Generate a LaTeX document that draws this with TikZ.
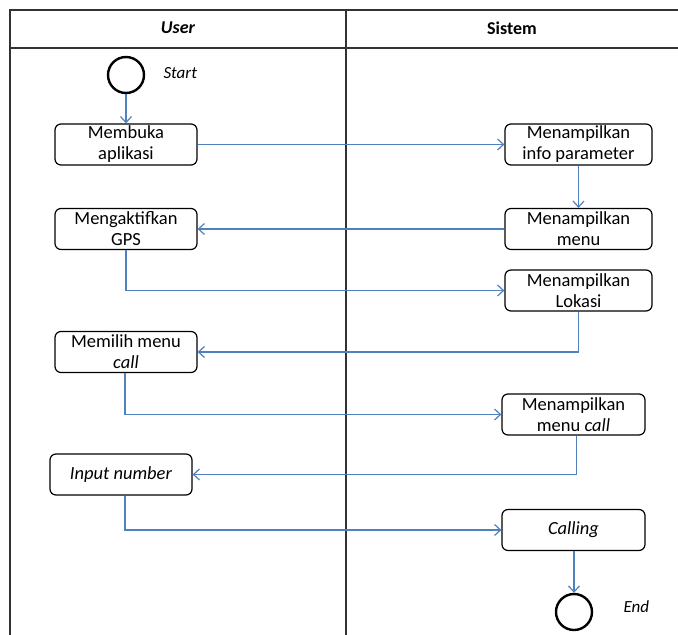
\documentclass[tikz,border=0pt]{standalone}
\usepackage{fontspec}
\setmainfont{Carlito}
\usetikzlibrary{arrows.meta}
\definecolor{flow}{RGB}{79,129,189}
\definecolor{frame}{RGB}{50,50,50}
\tikzset{
  act/.style={draw=black, line width=1.2pt, rounded corners=6pt, minimum width=142pt, minimum height=41pt, align=center, inner sep=0pt, font=\fontsize{18.5}{21}\selectfont},
  term/.style={draw=black, line width=2.4pt, circle, minimum size=36pt, inner sep=0pt},
  flowarrow/.style={draw=flow, line width=1.2pt, -{Straight Barb[length=6pt,width=11pt,line width=1.2pt]}},
  lane/.style={draw=frame, line width=1.5pt},
  lbl/.style={font=\fontsize{17}{21}\selectfont\itshape},
  hdr/.style={font=\fontsize{18}{21}\selectfont\bfseries}
}
\begin{document}
\begin{tikzpicture}[x=1pt,y=-1pt]
\useasboundingbox (0,0) rectangle (678,635);
% swimlanes
\draw[lane] (10,635) -- (10,10) -- (678,10);
\draw[lane] (10,48) -- (678,48);
\draw[lane] (346,10) -- (346,635);
\node[hdr] (huser) at (178,28) {\itshape User};
\node[hdr] (hsis) at (512,28) {Sistem};
% nodes
\node[term] (start) at (126,75) {};
\node[lbl, anchor=west] (starttxt) at (160,73) {Start};
\node[act] (open) at (126,144.5) {Membuka\\aplikasi};
\node[act, minimum width=147pt] (info) at (578.5,144.5) {Menampilkan\\info parameter};
\node[act] (gps) at (126,229) {Mengaktifkan\\GPS};
\node[act, minimum width=147pt] (menu) at (578.5,229) {Menampilkan\\menu};
\node[act, minimum width=147pt] (lokasi) at (578.5,290.5) {Menampilkan\\Lokasi};
\node[act] (pilih) at (126,352) {Memilih menu\\\textit{call}};
\node[act, minimum width=143pt] (menucall) at (573.5,414.5) {Menampilkan\\menu \textit{call}};
\node[act] (input) at (121,474.5) {\textit{Input number}};
\node[act, minimum width=143pt] (calling) at (573.5,530) {\textit{Calling}};
\node[term] (end) at (574,612) {};
\node[lbl, anchor=west] (endtxt) at (620,607) {End};
% flows
\draw[flowarrow] (start) -- (open);
\draw[flowarrow] (open.east) -- (open.east -| info.west);
\draw[flowarrow] (info) -- (menu);
\draw[flowarrow] (menu.west) -- (gps.east);
\draw[flowarrow] (gps.south) |- (lokasi.west);
\draw[flowarrow] (lokasi.south) |- (pilih.east);
\draw[flowarrow] ([xshift=-1pt]pilih.south) |- (menucall.west);
\draw[flowarrow] ([xshift=3pt]menucall.south) |- (input.east);
\draw[flowarrow] ([xshift=4pt]input.south) |- (calling.west);
\draw[flowarrow] (calling.south -| end.north) -- (end.north);
\end{tikzpicture}
\end{document}
